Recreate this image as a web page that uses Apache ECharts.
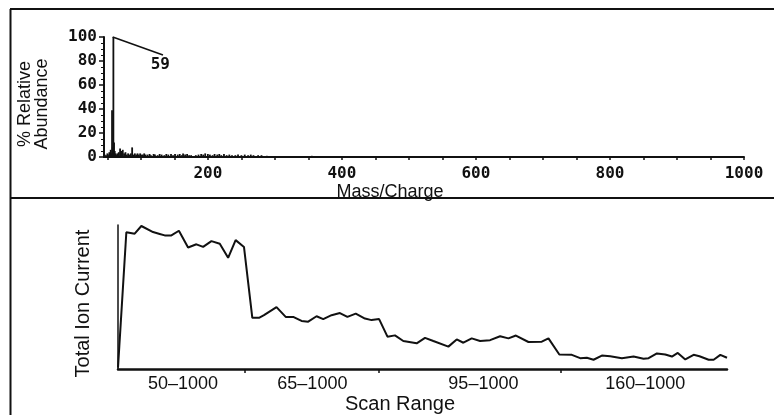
<!DOCTYPE html>
<html>
<head>
    <meta charset="utf-8">
    <title>Mass spectrum and total ion current</title>
    <script src="https://cdn.jsdelivr.net/npm/echarts@6.0.0/dist/echarts.min.js"></script>
    <style>
        html, body { margin: 0; padding: 0; background: #fff; }
    </style>
</head>
<body>
    <div id="main" style="width: 774px;height:415px;"></div>
    <script>
        // spectrum peaks: [m/z, % relative abundance]
        var peaks = [
            [46, 2], [48, 1.5], [50, 3], [51, 2], [53, 4], [55, 6], [56, 3], [57, 39], [58, 8], [59, 100],
            [60, 12], [61, 5], [62, 3], [63, 2], [65, 3], [67, 4], [69, 7], [70, 3], [71, 5], [73, 6],
            [75, 3], [77, 4], [79, 2], [81, 3], [83, 2], [85, 3], [87, 8], [89, 2], [91, 3], [93, 2],
            [95, 3], [97, 2], [99, 3], [101, 2], [103, 2], [105, 3], [107, 2], [110, 2], [113, 2.5], [115, 1.5],
            [119, 2.5], [121, 2], [125, 1.5], [128, 2.5], [131, 2], [135, 1.5], [138, 2.5], [141, 2], [145, 2.5], [148, 1.5],
            [151, 2.5], [155, 2], [158, 2.5], [161, 1.5], [163, 3], [166, 2], [169, 2.5], [172, 1.5], [175, 1.5], [182, 1.5],
            [186, 2], [190, 2.5], [193, 2], [196, 3], [200, 2.5], [203, 2], [207, 1.5], [210, 2.5], [214, 2], [217, 2.5],
            [220, 1.5], [224, 2.5], [228, 1.5], [232, 2], [236, 1.5], [241, 1.5], [245, 2], [250, 1.5], [255, 2], [260, 1.5],
            [264, 2], [268, 1.5], [275, 1.5], [280, 1.5], [288, 1], [300, 0.6], [345, 0.6], [355, 1], [370, 0.6], [400, 0.6],
            [430, 0.4], [450, 0.4], [480, 0.4], [520, 0.4], [560, 0.4]
        ];
        var massLabels = [200, 400, 600, 800, 1000];
        var basePeak = { label: '59', from: [58, 100], to: [133, 85], text: [129, 77] };

        // total ion current: [scan, relative TIC]
        var tic = [
            [0, 1], [1.0, 95], [2.0, 94], [2.8, 99.3], [4.2, 95.1], [5.0, 93.8], [5.6, 92.8], [6.4, 92.8], [7.3, 96.0], [8.4, 84.4],
            [9.4, 86.6], [10.2, 84.8], [11.2, 88.8], [12.2, 87.0], [13.2, 77.2], [14.1, 89.5], [15.1, 84.8], [16.1, 35.6], [16.9, 35.6], [17.5, 37.4],
            [19.0, 43.0], [20.1, 36.2], [21.0, 36.2], [22.0, 33.4], [22.8, 32.9], [23.8, 36.7], [24.6, 34.7], [25.6, 37.4], [26.6, 38.9], [27.5, 36.2],
            [28.5, 38.5], [29.6, 35.1], [30.4, 34.0], [31.3, 34.7], [32.3, 22.5], [33.2, 23.4], [34.2, 19.5], [35.8, 17.9], [36.8, 21.7], [37.8, 19.5],
            [39.6, 15.6], [40.6, 20.6], [41.4, 18.3], [42.4, 21.3], [43.4, 19.5], [44.6, 20.1], [45.8, 22.8], [46.8, 21.3], [47.7, 23.3], [49.2, 18.8],
            [50.8, 19.0], [51.6, 21.3], [52.9, 10.1], [54.4, 9.9], [55.4, 7.6], [56.2, 7.9], [57.0, 6.5], [58.0, 9.4], [59.0, 8.9], [60.4, 7.6],
            [61.8, 8.7], [63.0, 7.2], [63.6, 7.6], [64.6, 10.9], [65.6, 10.1], [66.4, 8.7], [67.1, 11.2], [68.0, 6.7], [69.0, 9.9], [69.7, 8.9],
            [70.8, 6.5], [71.4, 6.5], [72.2, 9.9], [73.0, 7.9]
        ];
        var rangeLabels = ['50–1000', '65–1000', '95–1000', '160–1000'];
        var rangeCenters = [7.8, 23.3, 43.8, 63.2];
        var rangeBounds = [15.2, 31.3, 53.1];

        var massTicks = [];
        for (var m = 50; m <= 1000; m += 50) massTicks.push(m);

        var numFont = { fontFamily: 'DejaVu Sans Mono', fontWeight: 'bold', fontSize: 16, color: '#111' };
        var sansFont = 'Liberation Sans';

        var myChart = echarts.init(document.getElementById('main'));

        var option = {
            animation: false,
            backgroundColor: '#fff',
            graphic: [
                { type: 'line', shape: { x1: 10, y1: 9, x2: 774, y2: 9 }, style: { stroke: '#111', lineWidth: 2 } },
                { type: 'line', shape: { x1: 10.5, y1: 9, x2: 10.5, y2: 415 }, style: { stroke: '#111', lineWidth: 2 } },
                { type: 'line', shape: { x1: 10, y1: 198, x2: 774, y2: 198 }, style: { stroke: '#111', lineWidth: 2 } }
            ],
            grid: [
                { left: 104, right: 30, top: 37, bottom: 258 },
                { left: 118, right: 47, top: 225, bottom: 41 }
            ],
            xAxis: [{
                type: 'value',
                gridIndex: 0,
                min: 45,
                max: 1000,
                name: 'Mass/Charge',
                nameLocation: 'middle',
                nameGap: 22,
                nameTextStyle: { fontFamily: sansFont, fontSize: 18, color: '#111', padding: [0, 68, 0, 0] },
                axisLine: { lineStyle: { color: '#111', width: 2 } },
                axisTick: { customValues: massTicks, length: 3, lineStyle: { color: '#111', width: 1.5 } },
                axisLabel: Object.assign({
                    customValues: massLabels,
                    margin: 9,
                    formatter: function (v) { return String(v); }
                }, numFont),
                splitLine: { show: false }
            }, {
                type: 'value',
                gridIndex: 1,
                min: 0,
                max: 73,
                name: 'Scan Range',
                nameLocation: 'middle',
                nameGap: 19,
                nameTextStyle: { fontFamily: sansFont, fontSize: 20, color: '#111', padding: [0, 45, 0, 0] },
                axisLine: { lineStyle: { color: '#111', width: 2.5 } },
                axisTick: { customValues: rangeBounds, length: 4, lineStyle: { color: '#111', width: 1.5 } },
                axisLabel: {
                    customValues: rangeCenters,
                    margin: 6,
                    fontFamily: sansFont,
                    fontSize: 18,
                    color: '#111',
                    formatter: function (v) {
                        var best = 0;
                        for (var i = 1; i < rangeCenters.length; i++) {
                            if (Math.abs(rangeCenters[i] - v) < Math.abs(rangeCenters[best] - v)) best = i;
                        }
                        return rangeLabels[best];
                    }
                },
                splitLine: { show: false }
            }],
            yAxis: [{
                type: 'value',
                gridIndex: 0,
                min: 0,
                max: 100,
                interval: 20,
                name: '% Relative\nAbundance',
                nameLocation: 'middle',
                nameGap: 53,
                nameTextStyle: { fontFamily: sansFont, fontSize: 18, lineHeight: 17, color: '#111', padding: [0, 14, 0, 0] },
                axisLine: { show: true, lineStyle: { color: '#111', width: 2 } },
                axisTick: { length: 5, lineStyle: { color: '#111', width: 1.5 } },
                minorTick: { show: true, splitNumber: 4, length: 3, lineStyle: { color: '#111', width: 1 } },
                axisLabel: Object.assign({ margin: 7 }, numFont),
                splitLine: { show: false }
            }, {
                type: 'value',
                gridIndex: 1,
                min: 0,
                max: 100,
                name: 'Total Ion Current',
                nameLocation: 'middle',
                nameGap: 25,
                nameTextStyle: { fontFamily: sansFont, fontSize: 20, color: '#111', padding: [0, 13, 0, 0] },
                axisLine: { show: true, lineStyle: { color: '#111', width: 1.5 } },
                axisTick: { show: false },
                axisLabel: { show: false },
                splitLine: { show: false }
            }],
            series: [{
                type: 'bar',
                xAxisIndex: 0,
                yAxisIndex: 0,
                data: peaks,
                barWidth: 1.8,
                itemStyle: { color: '#111' },
                markLine: {
                    silent: true,
                    symbol: 'none',
                    label: { show: false },
                    lineStyle: { color: '#111', width: 1.5, type: 'solid' },
                    data: [[{ coord: basePeak.from }, { coord: basePeak.to }]]
                },
                markPoint: {
                    silent: true,
                    symbolSize: 0,
                    label: {
                        show: true,
                        position: 'inside',
                        formatter: basePeak.label,
                        fontFamily: 'DejaVu Sans Mono',
                        fontWeight: 'bold',
                        fontSize: 16,
                        color: '#111'
                    },
                    data: [{ coord: basePeak.text }]
                }
            }, {
                type: 'line',
                xAxisIndex: 1,
                yAxisIndex: 1,
                data: tic,
                symbol: 'none',
                lineStyle: { color: '#111', width: 2 }
            }]
        };

        myChart.setOption(option);
    </script>
</body>
</html>
